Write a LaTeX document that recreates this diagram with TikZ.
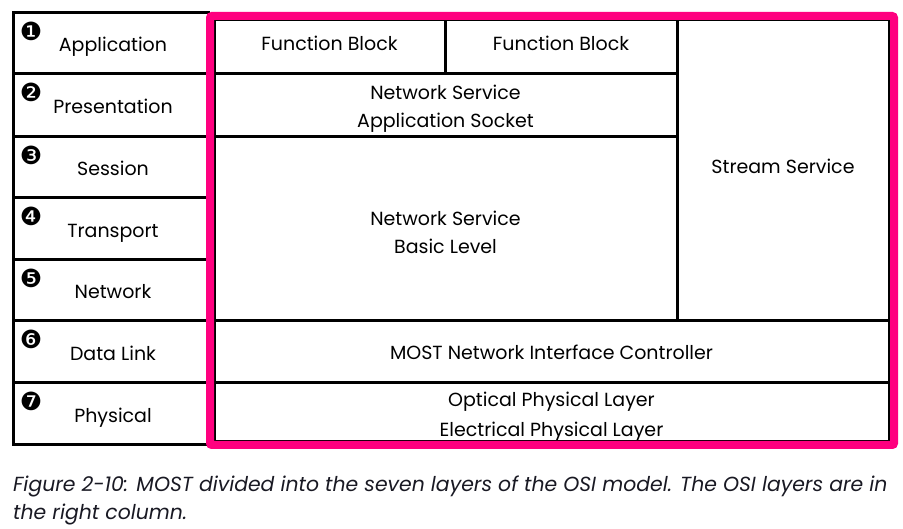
\documentclass[tikz,border=0pt]{standalone}
\usepackage{fontspec}
\setmainfont{Poppins}
\newfontfamily\dingfont{DejaVu Sans}
\definecolor{mostpink}{RGB}{255,0,127}
\definecolor{captionink}{RGB}{25,25,35}
\begin{document}
\begin{tikzpicture}[x=1pt,y=-1pt,
  cellbox/.style={draw=black, line width=3pt, inner sep=0pt, outer sep=0pt},
  celltext/.style={font=\fontsize{19}{28}\selectfont, align=center, inner sep=0pt},
  cellname/.style={celltext, text height=14pt, text depth=0pt},
  layernum/.style={font=\dingfont\fontsize{25}{25}\selectfont, inner sep=0pt},
  captionline/.style={font=\itshape\fontsize{20.4}{28}\selectfont, text=captionink, anchor=base west, inner sep=0pt}
]
\useasboundingbox (0,0) rectangle (903,529);

% OSI layers in the left column
\foreach \i/\t/\b/\lab/\num in {1/13/74/Application/❶, 2/74/137/Presentation/❷,
    3/137/198/Session/❸, 4/198/260/Transport/❹, 5/260/321/Network/❺,
    6/321/383/Data Link/❻, 7/383/445/Physical/❼} {
  \node[cellbox, minimum width=195pt, minimum height={\b-\t}] (osi\i) at (110.5, {(\t+\b)/2}) {};
  \node[cellname] (osiname\i) at ([xshift=2.5pt,yshift=-1.5pt]osi\i.center) {\lab};
  \node[layernum] (osinum\i) at ([xshift=18pt,yshift=-18pt]osi\i.north west) {\num};
}

% MOST blocks
\node[cellbox, minimum width=231pt, minimum height=54pt] (fb1) at (329.5,47) {};
\node[cellname] (fb1t) at ([yshift=3pt]fb1.center) {Function Block};
\node[cellbox, minimum width=232pt, minimum height=54pt] (fb2) at (561,47) {};
\node[cellname] (fb2t) at ([yshift=3pt]fb2.center) {Function Block};
\node[cellbox, minimum width=212pt, minimum height=301pt] (stream) at (783,170.5) {};
\node[cellname] (streamt) at ([yshift=4pt]stream.center) {Stream Service};
\node[cellbox, minimum width=463pt, minimum height=63pt] (nsas) at (445.5,105.5) {};
\node[celltext] (nsast) at ([yshift=-3pt]nsas.center) {Network Service\\Application Socket};
\node[cellbox, minimum width=463pt, minimum height=184pt] (nsbl) at (445.5,229) {};
\node[celltext] (nsblt) at ([yshift=-3pt]nsbl.center) {Network Service\\Basic Level};
\node[cellbox, minimum width=675pt, minimum height=62pt] (nic) at (551.5,352) {};
\node[cellname] (nict) at ([yshift=-1pt]nic.center) {MOST Network Interface Controller};
\node[cellbox, minimum width=675pt, minimum height=59pt] (phys) at (551.5,412.5) {};
\node[celltext, font=\fontsize{19}{30}\selectfont] (physt) at ([yshift=-4pt]phys.center) {Optical Physical Layer\\Electrical Physical Layer};

% frame around the MOST part
\draw[mostpink, line width=8pt, rounded corners=2pt] (210,16) rectangle (894,445);

% caption
\node[captionline] (cap1) at (13,491) {Figure 2-10: MOST divided into the seven layers of the OSI model. The OSI layers are in};
\node[captionline] (cap2) at (13,519) {the right column.};
\end{tikzpicture}
\end{document}
